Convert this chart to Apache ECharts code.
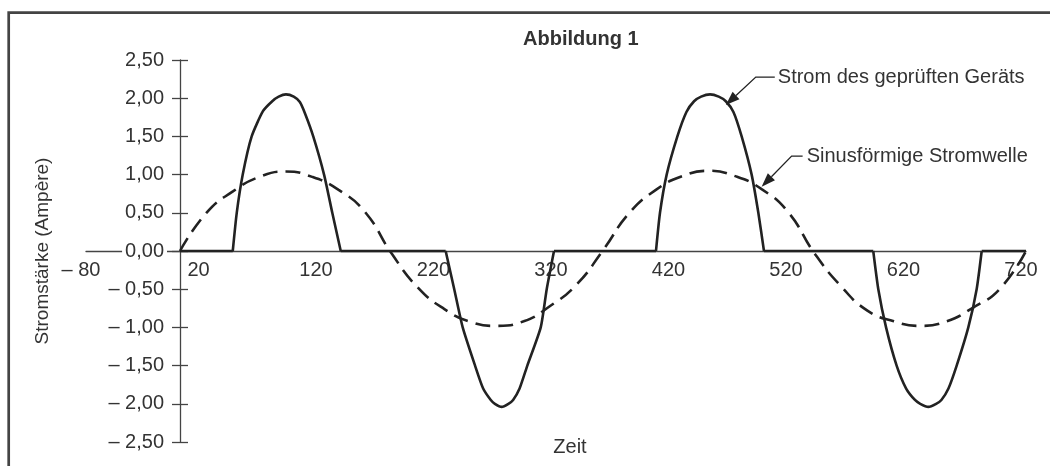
<!DOCTYPE html>
<html>
<head>
<meta charset="utf-8">
<script src="https://cdn.jsdelivr.net/npm/echarts@6/dist/echarts.min.js"></script>
<style>
  html, body { margin: 0; padding: 0; background: #fff; }
  #chart { width: 1050px; height: 466px; }
</style>
</head>
<body>
<div id="chart"></div>
<script>
// Sinusförmige Stromwelle (gestrichelt)
const sineTime = [0, 22.5, 45, 67.5, 90, 112.5, 135, 157.5, 180, 202.5, 225, 247.5, 270, 292.5, 315, 337.5,
  360, 382.5, 405, 427.5, 450, 472.5, 495, 517.5, 540, 562.5, 585, 607.5, 630, 652.5, 675, 697.5, 720]
const sineValues = [0, 0.50, 0.78, 0.97, 1.04, 0.97, 0.80, 0.51, -0.03, -0.48, -0.76, -0.93, -0.98, -0.92, -0.72, -0.44,
  0.01, 0.50, 0.80, 0.98, 1.05, 0.98, 0.81, 0.51, -0.03, -0.46, -0.78, -0.92, -0.98, -0.92, -0.74, -0.50, 0]

// Strom des geprüften Geräts (durchgezogen)
const deviceTime = [0, 44.9, 48.3, 53.4, 61.0, 70.6, 78.5, 84.0, 90.2, 96.8, 102.0, 106.4, 113.4, 122.6, 129.6, 136.8,
  226.1, 233.4, 240.6, 251.1, 258.0, 264.5, 268.0, 273.8, 279.5, 283.5, 289.0, 295.6, 307.0, 312.1, 318.3,
  405.1, 408.5, 414.2, 423.3, 431.0, 437.5, 443.5, 451.1, 458.5, 464.5, 471.0, 478.0, 486.5, 492.2, 497.0,
  590.0, 594.3, 600.9, 609.9, 618.0, 625.5, 630.0, 636.9, 643.5, 648.0, 654.0, 661.0, 670.9, 678.0, 682.3, 720]
const deviceValues = [0, 0, 0.5, 1.0, 1.5, 1.83, 1.96, 2.02, 2.05, 2.02, 1.95, 1.8, 1.5, 1.0, 0.5, 0,
  0, -0.5, -1.0, -1.5, -1.8, -1.95, -2.0, -2.04, -2.0, -1.95, -1.8, -1.5, -1.0, -0.5, 0,
  0, 0.5, 1.0, 1.5, 1.82, 1.96, 2.02, 2.05, 2.02, 1.96, 1.82, 1.5, 1.0, 0.5, 0,
  0, -0.5, -1.0, -1.5, -1.8, -1.95, -2.0, -2.04, -2.0, -1.95, -1.8, -1.5, -1.0, -0.5, 0, 0]

// Achsen
const timeMin = -80, timeMax = 720, timeStep = 100
const ampMin = -2.5, ampMax = 2.5, ampStep = 0.5

const titleText = 'Abbildung 1'
const deviceLabel = 'Strom des geprüften Geräts'
const sineLabel = 'Sinusförmige Stromwelle'

const font = '"Liberation Sans", Arial, Helvetica, sans-serif'
const ink = '#222'
const textColor = '#333'
const axisColor = '#444'

// grid box and where the axes cross (t = 0, I = 0)
const gridLeft = 86, gridRight = 24, gridTop = 60, gridBottom = 24
const plotW = 1050 - gridLeft - gridRight
const plotH = 466 - gridTop - gridBottom
const yAxisShift = -plotW * (0 - timeMin) / (timeMax - timeMin)
const xAxisShift = -plotH * (0 - ampMin) / (ampMax - ampMin)

const chart = echarts.init(document.getElementById('chart'))

const fmtAmp = v => (v < 0 ? '– ' : '') + Math.abs(v).toFixed(2).replace('.', ',')
const fmtTime = v => (v < 0 ? '– ' + (-v) : String(v))

// flat parts and pulses as separate pieces so the pulses keep straight flanks
const deviceData = []
deviceTime.forEach((t, i) => {
  const v = deviceValues[i]
  deviceData.push([t, v])
  const prev = deviceValues[i - 1], next = deviceValues[i + 1]
  if (v === 0 && prev !== undefined && next !== undefined && (prev === 0) !== (next === 0)) {
    deviceData.push([t, null])
    deviceData.push([t, v])
  }
})

const yBase = {
  type: 'value',
  min: ampMin,
  max: ampMax,
  interval: ampStep,
  splitLine: { show: false }
}

chart.setOption({
  animation: false,
  backgroundColor: '#fff',
  textStyle: { fontFamily: font },
  title: {
    text: titleText,
    left: 518,
    top: 24,
    textStyle: { fontSize: 20, fontWeight: 'bold', color: textColor, fontFamily: font }
  },
  grid: { left: gridLeft, right: gridRight, top: gridTop, bottom: gridBottom, outerBoundsMode: 'none' },
  xAxis: {
    type: 'value',
    min: timeMin,
    max: timeMax,
    interval: timeStep,
    position: 'bottom',
    offset: xAxisShift,
    name: 'Zeit',
    nameLocation: 'middle',
    nameGap: 186,
    nameTextStyle: { fontSize: 20, color: textColor, padding: [0, 0, 0, 28] },
    splitLine: { show: false },
    axisTick: { show: false },
    axisLine: { onZero: false, lineStyle: { color: axisColor, width: 1.3 } },
    axisLabel: {
      formatter: fmtTime,
      fontSize: 20,
      color: textColor,
      margin: 9,
      padding: [0, 10, 0, 0]
    }
  },
  yAxis: [
    Object.assign({}, yBase, {
      position: 'left',
      offset: yAxisShift,
      z: 1,
      name: 'Stromstärke (Ampère)',
      nameLocation: 'middle',
      nameGap: 128,
      nameTextStyle: { fontSize: 19, color: textColor },
      axisLine: { onZero: false, lineStyle: { color: axisColor, width: 1.3 } },
      axisTick: { show: true, inside: false, length: 8, lineStyle: { color: axisColor, width: 1.3 } },
      axisLabel: {
        formatter: fmtAmp,
        fontSize: 20,
        color: textColor,
        margin: 13,
        backgroundColor: '#fff',
        padding: [0, 3, 0, 3]
      }
    }),
    // second copy on the same line: tick marks to the right, so they cross the axis
    Object.assign({}, yBase, {
      position: 'right',
      offset: -(plotW + yAxisShift),
      axisLine: { show: false, onZero: false },
      axisTick: { show: true, inside: false, length: 8, lineStyle: { color: axisColor, width: 1.3 } },
      axisLabel: { show: false }
    })
  ],
  series: [
    {
      name: deviceLabel,
      type: 'line',
      yAxisIndex: 0,
      data: deviceData,
      connectNulls: false,
      showSymbol: false,
      smooth: 0.2,
      lineStyle: { color: ink, width: 2.6 },
      z: 3
    },
    {
      name: sineLabel,
      type: 'line',
      yAxisIndex: 0,
      data: sineTime.map((t, i) => [t, sineValues[i]]),
      showSymbol: false,
      smooth: true,
      lineStyle: { color: ink, width: 2.6, type: [15, 8] },
      z: 2
    }
  ]
})

// Beschriftungen mit Pfeilen
function arrowNote(tipData, dx, dy, run, gap, text) {
  const tip = chart.convertToPixel({ xAxisIndex: 0, yAxisIndex: 0 }, tipData)
  const elbow = [tip[0] + dx, tip[1] + dy]
  const end = [elbow[0] + run, elbow[1]]
  const len = Math.hypot(dx, dy)
  const ux = dx / len, uy = dy / len
  const head = 14, half = 5
  const base = [tip[0] + ux * head, tip[1] + uy * head]
  return [
    {
      type: 'polyline',
      shape: { points: [end, elbow, base] },
      style: { stroke: ink, lineWidth: 1.3, fill: null },
      z: 10
    },
    {
      type: 'polygon',
      shape: { points: [tip, [base[0] - uy * half, base[1] + ux * half], [base[0] + uy * half, base[1] - ux * half]] },
      style: { fill: ink },
      z: 10
    },
    {
      type: 'text',
      x: end[0] + gap,
      y: elbow[1],
      style: { text: text, fontSize: 20, fontFamily: font, fill: textColor, verticalAlign: 'middle' },
      z: 10
    }
  ]
}

chart.setOption({
  graphic: [
    {
      type: 'rect',
      shape: { x: 8.7, y: 12.7, width: 1200, height: 600 },
      style: { stroke: '#444', lineWidth: 2.7, fill: null },
      z: 0
    }
  ].concat(
    arrowNote([464.5, 1.91], 30, -28, 19, 3, deviceLabel),
    arrowNote([495, 0.84], 30, -30.7, 11, 4, sineLabel)
  )
})
</script>
</body>
</html>
